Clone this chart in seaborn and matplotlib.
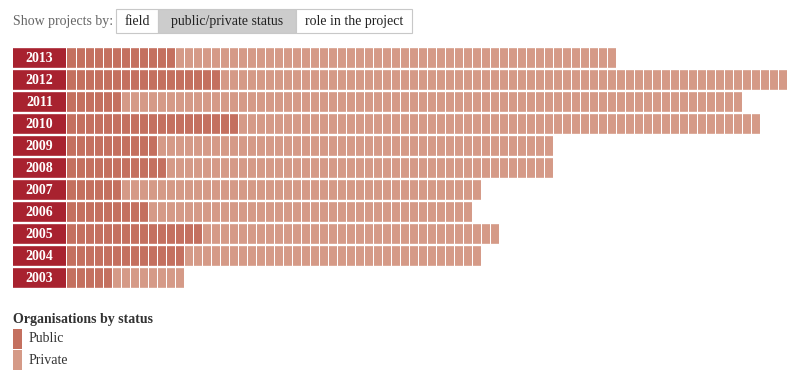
import numpy as np
import pandas as pd
import matplotlib
matplotlib.use("Agg")
import matplotlib.pyplot as plt
from matplotlib.colors import ListedColormap
from matplotlib.patches import Rectangle
import seaborn as sns

years = ["2013", "2012", "2011", "2010", "2009", "2008", "2007", "2006", "2005", "2004", "2003"]
public = [12, 17, 6, 19, 10, 11, 6, 9, 15, 13, 5]
private = [49, 63, 69, 58, 44, 43, 40, 36, 33, 33, 8]

buttons = ["field", "public/private status", "role in the project"]
legend_labels = ["Public", "Private"]

C_PUBLIC = "#C4705F"
C_PRIVATE = "#D59A87"
C_LABEL = "#A8222F"

sns.set_theme(style="white")
plt.rcParams["font.family"] = ["Liberation Serif", "DejaVu Serif"]

# one cell per organisation: 0 = public, 1 = private
ncols = max(p + q for p, q in zip(public, private))
grid = np.full((len(years), ncols), np.nan)
for i, (p, q) in enumerate(zip(public, private)):
    grid[i, :p] = 0
    grid[i, p:p + q] = 1
df = pd.DataFrame(grid, index=years)

W, H = 809, 383
fig = plt.figure(figsize=(W / 100, H / 100), dpi=100)

# pixel-space overlay for the header and legend
ov = fig.add_axes([0, 0, 1, 1])
ov.set_xlim(0, W)
ov.set_ylim(H, 0)
ov.axis("off")

ov.text(13, 21.5, "Show projects by:", fontsize=10, color="#666666", va="center")
edges = [116, 158, 296, 412]
for k, lab in enumerate(buttons):
    x0, x1 = edges[k], edges[k + 1]
    face = "#CCCCCC" if k == 1 else "white"
    ov.add_patch(Rectangle((x0, 8.5), x1 - x0, 24, facecolor=face,
                           edgecolor="#C8C8C8", lw=0.8))
    ov.text((x0 + x1) / 2, 21.5, lab, fontsize=10, color="#222222",
            ha="center", va="center")

ov.text(13, 319.5, "Organisations by status", fontsize=10, fontweight="bold",
        color="#333333", va="center")
for k, (lab, col) in enumerate(zip(legend_labels, [C_PUBLIC, C_PRIVATE])):
    y0 = 329 + k * 21
    ov.add_patch(Rectangle((13, y0), 9, 20, facecolor=col, edgecolor="none"))
    ov.text(28.5, y0 + 10, lab, fontsize=10, color="#333333", va="center")

# cell grid
x_left, x_start, pitch = 13, 66.7, 9
top, row_h = 46.6, 22
ax = fig.add_axes([x_left / W, 1 - (top + row_h * len(years)) / H,
                   (W - x_left) / W, row_h * len(years) / H])
sns.heatmap(df, ax=ax, cmap=ListedColormap([C_PUBLIC, C_PRIVATE]), vmin=0, vmax=1,
            cbar=False, mask=df.isna(), xticklabels=False, yticklabels=False)
xmin = -(x_start - x_left) / pitch
xmax = (W - x_start) / pitch
ax.set_xlim(xmin, xmax)
ax.set_ylim(len(years), 0)
ax.axis("off")

for i, y in enumerate(years):
    ax.add_patch(Rectangle((xmin, i), -xmin - 0.11, 1, facecolor=C_LABEL,
                           edgecolor="none", zorder=2))
    ax.text(xmin / 2 - 0.05, i + 0.55, y, color="white", fontsize=10,
            fontweight="bold", ha="center", va="center", zorder=3)

ax.vlines(np.arange(1, ncols), 0, len(years), color="white", lw=0.75, zorder=4)
ax.hlines(np.arange(0, len(years) + 1), xmin, xmax, color="white", lw=1.7, zorder=4)

fig.savefig("out.png", dpi=100)
